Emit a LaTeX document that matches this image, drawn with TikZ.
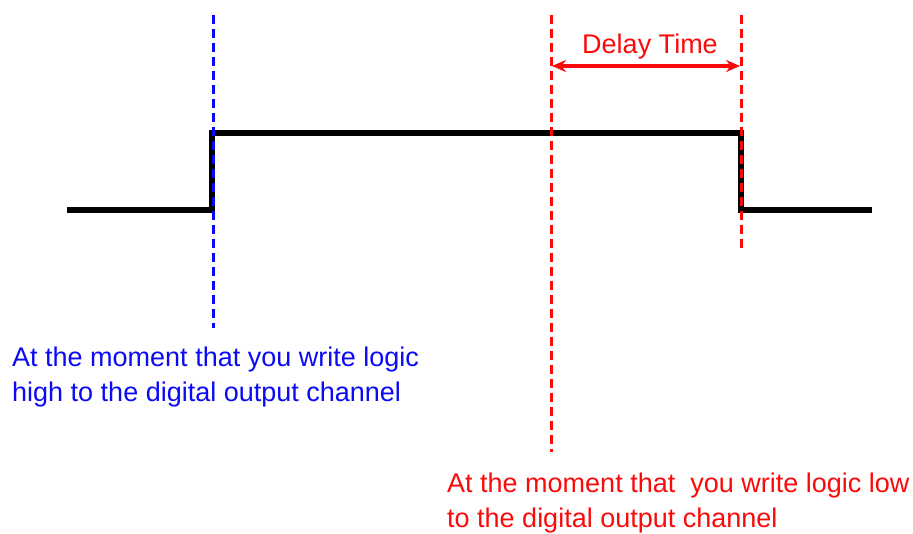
\documentclass[tikz,border=0pt]{standalone}
\usepackage{fontspec}
\setmainfont{Liberation Sans}
\usetikzlibrary{arrows.meta}
\definecolor{myblue}{RGB}{10,10,245}
\definecolor{myred}{RGB}{250,10,10}
\tikzset{
  sig/.style={line width=5.5pt, line join=miter},
  guide/.style={line width=3pt, dash pattern=on 9pt off 5pt},
  lbl/.style={font=\fontsize{27}{35}\selectfont, inner sep=0pt, anchor=base west, align=left},
}
\begin{document}
\begin{tikzpicture}[x=1pt,y=-1pt]
\useasboundingbox (0,0) rectangle (913,534);
% signal coordinates
\coordinate (s0) at (67,210);
\coordinate (s1) at (212,210);
\coordinate (s2) at (212,133);
\coordinate (s3) at (741,133);
\coordinate (s4) at (741,210);
\coordinate (s5) at (872,210);
\draw[sig] (s0) -- (s1) -- (s2) -- (s3) -- (s4) -- (s5);
% guides
\coordinate (bt) at (213,15);
\coordinate (bb) at (213,328);
\coordinate (rt) at (551,15);
\coordinate (rb) at (551,452);
\coordinate (dt) at (741,15);
\coordinate (db) at (741,248);
\draw[guide, myblue] (bt) -- (bb);
\draw[guide, myred] (rt) -- (rb);
\draw[guide, myred] (dt) -- (db);
% delay arrow
\coordinate (al) at (552,66);
\coordinate (ar) at (740,66);
\draw[myred, line width=3.5pt, {Stealth[length=14pt,width=12pt]}-{Stealth[length=14pt,width=12pt]}] (al) -- (ar);
\node[lbl, myred, anchor=base] (delay) at (650,54) {Delay Time};
% labels
\node[lbl, myblue] (hi) at (12,402) {At the moment that you write logic\\high to the digital output channel};
\node[lbl, myred] (lo) at (447,527) {At the moment that\ \ you write logic low\\to the digital output channel};
\end{tikzpicture}
\end{document}
